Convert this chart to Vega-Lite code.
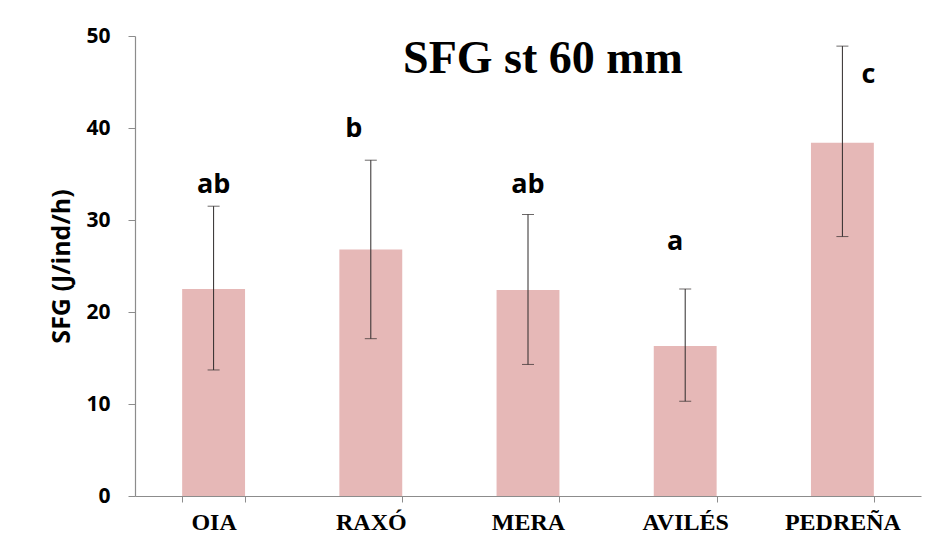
{
  "$schema": "https://vega.github.io/schema/vega-lite/v6.json",
  "autosize": "none",
  "width": 786,
  "height": 460,
  "padding": {"left": 135, "top": 36, "right": 15, "bottom": 53},
  "background": "white",
  "config": {"view": {"stroke": null}},
  "title": {
    "text": "SFG st 60 mm",
    "font": "Liberation Serif",
    "fontSize": 46,
    "fontWeight": "bold",
    "color": "#000000",
    "anchor": "middle",
    "frame": "group",
    "baseline": "alphabetic",
    "dx": 15,
    "dy": 98
  },
  "data": {
    "values": [
      {"site": "OIA", "mean": 22.5, "lo": 13.7, "hi": 31.5, "letter": "ab", "label_y": 33.8},
      {"site": "RAXÓ", "mean": 26.8, "lo": 17.1, "hi": 36.5, "letter": "b", "label_y": 39.9},
      {"site": "MERA", "mean": 22.4, "lo": 14.3, "hi": 30.6, "letter": "ab", "label_y": 33.8},
      {"site": "AVILÉS", "mean": 16.3, "lo": 10.3, "hi": 22.5, "letter": "a", "label_y": 27.6},
      {"site": "PEDREÑA", "mean": 38.4, "lo": 28.2, "hi": 48.9, "letter": "c", "label_y": 45.8}
    ]
  },
  "encoding": {
    "x": {
      "field": "site",
      "type": "nominal",
      "sort": null,
      "scale": {"paddingInner": 0.6, "paddingOuter": 0.3},
      "axis": {
        "title": null,
        "labelAngle": 0,
        "labelFont": "Liberation Serif",
        "labelFontSize": 24,
        "labelFontWeight": "bold",
        "labelColor": "#000000",
        "labelPadding": 8,
        "tickBand": "extent",
        "tickSize": 6,
        "tickColor": "#8c8c8c",
        "domainColor": "#8c8c8c",
        "domainWidth": 1.2
      }
    }
  },
  "layer": [
    {
      "mark": {"type": "bar", "color": "#e6b8b7"},
      "encoding": {
        "y": {
          "field": "mean",
          "type": "quantitative",
          "scale": {"domain": [0, 50], "nice": false},
          "axis": {
            "title": "SFG (J/ind/h)",
            "titleFont": "Open Sans",
            "titleFontSize": 25,
            "titleFontWeight": "bold",
            "titleColor": "#000000",
            "titlePadding": 11,
            "values": [0, 10, 20, 30, 40, 50],
            "grid": false,
            "labelFont": "Open Sans",
            "labelFontSize": 21,
            "labelFontWeight": "bold",
            "labelColor": "#000000",
            "labelPadding": 18,
            "tickSize": 7,
            "tickColor": "#8c8c8c",
            "domainColor": "#8c8c8c",
            "domainWidth": 1.2
          }
        }
      }
    },
    {
      "mark": {"type": "rule", "color": "#2e2a2a", "strokeWidth": 1},
      "encoding": {
        "y": {"field": "lo", "type": "quantitative"},
        "y2": {"field": "hi"}
      }
    },
    {
      "mark": {"type": "tick", "color": "#2e2a2a", "thickness": 1, "size": 12},
      "encoding": {"y": {"field": "lo", "type": "quantitative"}}
    },
    {
      "mark": {"type": "tick", "color": "#2e2a2a", "thickness": 1, "size": 12},
      "encoding": {"y": {"field": "hi", "type": "quantitative"}}
    },
    {
      "mark": {
        "type": "text",
        "font": "Open Sans",
        "fontSize": 27,
        "fontWeight": "bold",
        "color": "#000000",
        "baseline": "middle",
        "dx": {"expr": "datum.site === 'RAXÓ' ? -17 : datum.site === 'AVILÉS' ? -10 : datum.site === 'PEDREÑA' ? 26 : 0"}
      },
      "encoding": {
        "y": {"field": "label_y", "type": "quantitative"},
        "text": {"field": "letter"}
      }
    }
  ]
}
